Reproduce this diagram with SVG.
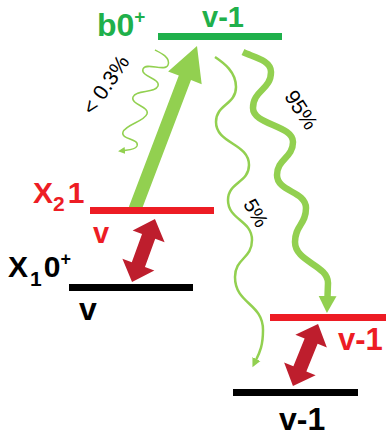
<svg xmlns="http://www.w3.org/2000/svg" xmlns:xlink="http://www.w3.org/1999/xlink" width="386" height="436" viewBox="0 0 386 436">
<style>
.lbl{font-family:"Liberation Sans",Arial,sans-serif;font-weight:bold}
.pct{font-family:"Liberation Sans",Arial,sans-serif;font-size:20px;fill:#000}
.wave{fill:none;stroke:#92D050;stroke-linecap:butt;stroke-linejoin:round}
.g{fill:#1FB04B}.r{fill:#ED1C24}.k{fill:#000}
</style>
<defs>
<marker id="hL" markerUnits="userSpaceOnUse" viewBox="0 -10 18 20" markerWidth="18" markerHeight="20" refX="1" refY="0" orient="auto"><path d="M0,-9 L17,0 L0,9z" fill="#92D050"/></marker>
<marker id="hS" markerUnits="userSpaceOnUse" viewBox="0 -5 10 10" markerWidth="10" markerHeight="10" refX="1" refY="0" orient="auto"><path d="M0,-4.5 L9,0 L0,4.5z" fill="#92D050"/></marker>
<marker id="hT" markerUnits="userSpaceOnUse" viewBox="0 -5 10 10" markerWidth="10" markerHeight="10" refX="1" refY="0" orient="auto"><path d="M0,-3.5 L7,0 L0,3.5z" fill="#92D050"/></marker>
<polygon id="dbl" points="0,-33.5 17,-15 7,-15 7,15 17,15 0,33.5 -17,15 -7,15 -7,-15 -17,-15" fill="#BE1E2D"/>
</defs>

<g id="connectors">
<polygon id="excite" points="128.9,206.7 141.1,211.3 191.0,80.1 201.7,84.2 197,46 168.1,71.4 178.8,75.5" fill="#92D050"/>
<path id="decay95" class="wave" stroke-width="6.5" marker-end="url(#hL)" d="M243,52 C253,57 271,60 271,72 C271,90 253,90 253,108 C253,125 293,125 293,142 C293,158 277,159 277,175 C277,192 306,191 306,208 C306,225 295,225 295,242 C295,262 328,265 328,283 L327.5,297"/>
<path id="decay5" class="wave" stroke-width="2.5" marker-end="url(#hS)" d="M215,57 C224,63 236,72 236,87 C236,105 216,104 216,122 C216,144 249,143 249,165 C249,183 228,182 228,200 C228,220 252,220 252,240 C252,259 235,258 235,277 C235,304 263,303 263,330 C263,345 260,352 256,360"/>
<path id="decay03" class="wave" stroke-width="1.5" marker-end="url(#hT)" d="M155,50 C161,53 170.8,57.5 168,65 C165.2,72.5 145.8,61.5 143,69 C140.2,76.5 160.8,78.5 158,86 C155.2,93.5 135.8,89.5 133,97 C130.2,104.5 149.8,106.5 147,114 C144.2,121.5 125.8,124.5 123,132 C120.2,139.5 139.8,138.5 137,146 C135,150 128,150 124,150.5"/>
<use href="#dbl" xlink:href="#dbl" transform="translate(143.5,250.5) rotate(20)"/>
<use href="#dbl" xlink:href="#dbl" transform="translate(305.5,355) rotate(22)"/>
<text class="pct" transform="translate(106,85) rotate(-56)" x="0" y="7" text-anchor="middle" style="font-size:21px">&lt; 0.3%</text>
<text class="pct" transform="translate(301,110) rotate(57)" x="0" y="7" text-anchor="middle" style="font-size:21px">95%</text>
<text class="pct" transform="translate(256,213) rotate(60)" x="0" y="7" text-anchor="middle">5%</text>
</g>

<g id="b0-v1">
<rect class="g" x="158" y="33" width="124" height="7"/>
<text class="lbl g" x="97" y="36" font-size="32">b0<tspan font-size="19" dy="-13">+</tspan></text>
<text class="lbl g" x="202" y="27" font-size="29">v-1</text>
</g>
<g id="X2-v">
<rect class="r" x="90" y="207" width="124" height="7"/>
<text class="lbl r" x="33" y="203" font-size="30">X<tspan font-size="21" dy="8">2</tspan><tspan dx="3" dy="-8">1</tspan></text>
<text class="lbl r" x="93" y="243" font-size="29">v</text>
</g>
<g id="X1-v">
<rect class="k" x="69" y="284" width="124" height="7"/>
<text class="lbl k" x="8" y="277" font-size="30">X<tspan font-size="21" dy="9" dx="2">1</tspan><tspan dx="2" dy="-9">0</tspan><tspan font-size="18" dy="-12">+</tspan></text>
<text class="lbl k" x="79" y="320" font-size="32">v</text>
</g>
<g id="X2-v1">
<rect class="r" x="270" y="314" width="116" height="7"/>
<text class="lbl r" x="338" y="350" font-size="31">v-1</text>
</g>
<g id="X1-v1">
<rect class="k" x="233" y="389" width="125" height="7"/>
<text class="lbl k" x="279" y="430" font-size="32">v-1</text>
</g>
</svg>
